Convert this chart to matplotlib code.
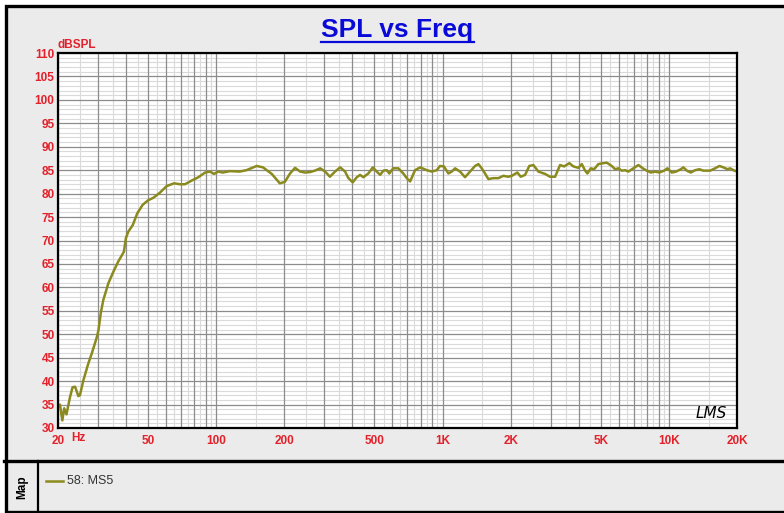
"""SPL vs Freq chart in the LMS style, saved as out.png."""
import matplotlib
matplotlib.use('Agg')
import matplotlib.pyplot as plt
from matplotlib.lines import Line2D
from matplotlib.patches import Rectangle
from matplotlib.ticker import FixedLocator, MultipleLocator, FuncFormatter
import matplotlib.transforms as mtransforms

freq_hz = [20, 20.4, 20.9, 21.3, 21.8, 22.6, 23.2, 23.8, 24.6, 25.0, 25.9, 27.2, 28.2,
           29.7, 30.2, 30.9, 31.7, 33.4, 35.1, 36.9, 39.1, 39.9, 40.9, 42.8, 44.8, 47.3,
           50.1, 52.7, 56.4, 60.4, 65.1, 69.2, 72.8, 78.0, 83.4, 89.3, 93.9, 97.8, 102,
           107, 115, 127, 136, 151, 161, 176, 191, 201, 212, 223, 235, 247, 260, 273,
           288, 303, 318, 335, 353, 371, 384, 401, 418, 432, 447, 470, 492, 512, 530,
           548, 567, 582, 606, 638, 671, 695, 719, 756, 796, 852, 896, 943, 975, 1015,
           1061, 1098, 1136, 1195, 1257, 1323, 1392, 1440, 1490, 1541, 1594, 1677, 1765,
           1857, 1954, 2023, 2141, 2216, 2316, 2418, 2520, 2651, 2838, 2986, 3142, 3306,
           3444, 3634, 3786, 3984, 4124, 4266, 4366, 4520, 4674, 4882, 5136, 5316, 5594,
           5786, 5984, 6194, 6406, 6624, 6970, 7334, 7670, 7988, 8320, 8692, 9082, 9526,
           9852, 10302, 10762, 11290, 11592, 12000, 12498, 13060, 13644, 14210, 15208,
           16006, 16722, 17418, 18142, 18646, 19282, 20000]
spl_db = [34.5, 35.0, 31.6, 34.2, 32.9, 36.6, 38.7, 38.8, 36.8, 37.0, 40.2, 43.7, 45.9,
          49.4, 50.9, 54.5, 57.3, 60.9, 63.3, 65.5, 67.6, 70.5, 71.9, 73.3, 75.8, 77.6,
          78.6, 79.1, 80.2, 81.6, 82.2, 82.0, 82.0, 82.8, 83.5, 84.5, 84.7, 84.2, 84.7,
          84.5, 84.8, 84.7, 85.0, 85.9, 85.6, 84.2, 82.2, 82.5, 84.3, 85.5, 84.7, 84.5,
          84.6, 84.9, 85.4, 84.7, 83.6, 84.7, 85.6, 84.7, 83.3, 82.4, 83.5, 84.0, 83.5,
          84.3, 85.6, 84.7, 84.0, 84.9, 85.0, 84.3, 85.4, 85.4, 84.3, 83.3, 82.6, 85.0,
          85.6, 85.0, 84.7, 85.0, 85.9, 85.8, 84.3, 84.7, 85.4, 84.7, 83.5, 84.7, 85.9,
          86.3, 85.4, 84.3, 83.1, 83.3, 83.3, 83.8, 83.6, 83.8, 84.5, 83.6, 84.0, 85.9,
          86.1, 84.7, 84.2, 83.6, 83.6, 86.1, 85.8, 86.5, 85.8, 85.5, 86.3, 84.9, 84.3,
          85.4, 85.2, 86.3, 86.5, 86.6, 85.9, 85.2, 85.4, 84.9, 85.0, 84.7, 85.4, 86.1,
          85.4, 84.9, 84.5, 84.7, 84.5, 84.9, 85.4, 84.5, 84.7, 85.2, 85.6, 84.9, 84.5,
          85.0, 85.2, 84.9, 84.9, 85.4, 85.9, 85.6, 85.2, 85.4, 85.0, 84.7]

x_labels = {20: '20', 50: '50', 100: '100', 200: '200', 500: '500', 1000: '1K',
            2000: '2K', 5000: '5K', 10000: '10K', 20000: '20K'}
series_name = '58: MS5'

RED = '#e3212b'
LINE = '#8a8a1e'
BG = '#ebebeb'
W, H = 784, 513


def fx(px):
    return px / W


def fy(py):
    return 1 - py / H


fig = plt.figure(figsize=(W / 100, H / 100), dpi=100, facecolor='white')
plt.rcParams['font.family'] = ['Liberation Sans', 'DejaVu Sans']

# gray panel with black frame, spilling past the right edge like the original
fig.patches.append(Rectangle((fx(5.5), fy(512)), fx(790), fy(5.5) - fy(512),
                             transform=fig.transFigure, facecolor=BG,
                             edgecolor='black', linewidth=2.4, zorder=-10))
fig.lines.append(Line2D([fx(4), fx(790)], [fy(461), fy(461)], transform=fig.transFigure,
                        color='black', linewidth=2.4))
fig.lines.append(Line2D([fx(38), fx(38)], [fy(461), fy(512)], transform=fig.transFigure,
                        color='black', linewidth=1.6))

ax = fig.add_axes([fx(58), fy(428), fx(737 - 58), fy(53) - fy(428)])
ax.set_zorder(5)
ax.set_facecolor('white')
ax.set_xscale('log')
ax.set_xlim(20, 20000)
ax.set_ylim(30, 110)

major_f = [d * m for d in (10, 100, 1000, 10000) for m in range(1, 10) if 20 <= d * m <= 20000]
minor_f = [d * (m + 0.5) for d in (10, 100, 1000, 10000) for m in range(1, 10)
           if 20 < d * (m + 0.5) < 20000]
major_db = list(range(30, 111, 5))
minor_db = [v for v in range(30, 111) if v % 5]

ax.xaxis.set_major_locator(FixedLocator(major_f))
ax.xaxis.set_minor_locator(FixedLocator(minor_f))
ax.xaxis.set_major_formatter(FuncFormatter(lambda v, p: x_labels.get(int(round(v)), '')))
ax.xaxis.set_minor_formatter(FuncFormatter(lambda v, p: ''))
ax.yaxis.set_major_locator(FixedLocator(major_db))
ax.yaxis.set_minor_locator(FixedLocator(minor_db))

# light grid first, dark grid on top of it
for v in minor_f:
    ax.axvline(v, color='#dadada', linewidth=0.8, zorder=1)
for v in minor_db:
    ax.axhline(v, color='#dadada', linewidth=0.8, zorder=1)
for v in major_f:
    ax.axvline(v, color='#8c8c8c', linewidth=0.9, zorder=2)
for v in major_db:
    ax.axhline(v, color='#8c8c8c', linewidth=0.9, zorder=2)

ax.tick_params(which='both', length=0)
ax.tick_params(axis='x', pad=5, labelsize=8.5, labelcolor=RED)
ax.tick_params(axis='y', pad=2.5, labelsize=8.5, labelcolor=RED)
for lab in ax.get_xticklabels() + ax.get_yticklabels():
    lab.set_fontweight('bold')
for sp in ax.spines.values():
    sp.set_linewidth(1.6)
    sp.set_color('black')
    sp.set_zorder(6)

ax.plot(freq_hz, spl_db, color=LINE, linewidth=1.8, solid_joinstyle='round', zorder=4)

trans = mtransforms.blended_transform_factory(ax.transData, ax.transAxes)
ax.text(24.6, -0.027, 'Hz', transform=trans, color=RED, fontsize=8.5, fontweight='bold',
        ha='center', va='center')
ax.text(0.0, 1.005, 'dBSPL', transform=ax.transAxes, color=RED, fontsize=8.5,
        fontweight='bold', ha='left', va='bottom')
ax.text(0.962, 0.04, 'LMS', transform=ax.transAxes, fontsize=11, fontstyle='italic',
        family='DejaVu Sans', color='black', ha='center', va='center', zorder=5)

title = fig.text(fx(397.5), fy(30), 'SPL vs Freq', color='#0a0ad8', fontsize=19,
                 fontweight='bold', ha='center', va='center')
fig.canvas.draw()
bb = title.get_window_extent().transformed(fig.transFigure.inverted())
fig.lines.append(Line2D([bb.x0, bb.x1], [fy(42), fy(42)], transform=fig.transFigure,
                        color='#0a0ad8', linewidth=1.6))

# legend panel
fig.text(fx(22), fy(487), 'Map', rotation=90, fontsize=8.5, fontweight='bold',
         ha='center', va='center', color='black')
fig.lines.append(Line2D([fx(46), fx(63)], [fy(481), fy(481)], transform=fig.transFigure,
                        color=LINE, linewidth=1.8))
fig.text(fx(67), fy(481), series_name, fontsize=9, color='#333333', ha='left', va='center')

fig.savefig('out.png', dpi=100, facecolor=fig.get_facecolor())
